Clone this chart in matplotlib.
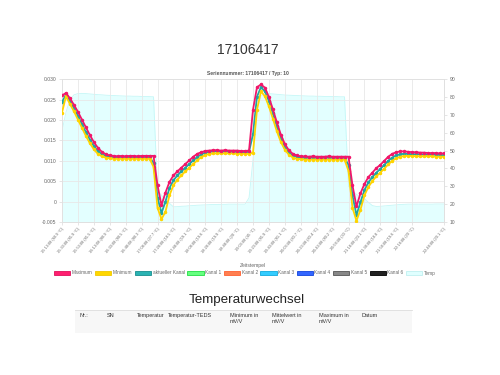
import matplotlib.pyplot as plt
from matplotlib.patches import Patch, Rectangle
import numpy as np

plt.rcParams['font.family'] = ['Liberation Sans', 'DejaVu Sans']

# Messwerte in mV/V, ein Wert pro Zeitstempel
maximum = [0.0260, 0.0266, 0.0253, 0.0237, 0.0220, 0.0201, 0.0182, 0.0163, 0.0146, 0.0132, 0.0122, 0.0116,
           0.0113, 0.0112, 0.0111, 0.0112, 0.0111, 0.0112, 0.0112, 0.0111, 0.0112, 0.0112, 0.0112, 0.0112,
           0.0040, -0.0009, 0.0022, 0.0048, 0.0064, 0.0074, 0.0083, 0.0092, 0.0101, 0.0110, 0.0117, 0.0121,
           0.0124, 0.0125, 0.0126, 0.0126, 0.0125, 0.0126, 0.0125, 0.0125, 0.0125, 0.0124, 0.0124, 0.0125,
           0.0225, 0.0280, 0.0287, 0.0279, 0.0256, 0.0226, 0.0194, 0.0164, 0.0141, 0.0126, 0.0117, 0.0113,
           0.0111, 0.0111, 0.0110, 0.0111, 0.0110, 0.0110, 0.0110, 0.0111, 0.0110, 0.0110, 0.0110, 0.0110,
           0.0110, 0.0040, -0.0012, 0.0020, 0.0043, 0.0060, 0.0071, 0.0082, 0.0090, 0.0100, 0.0110, 0.0117,
           0.0121, 0.0123, 0.0123, 0.0122, 0.0121, 0.0121, 0.0120, 0.0120, 0.0119, 0.0119, 0.0119, 0.0118,
           0.0118]
minimum = [0.0218, 0.0258, 0.0239, 0.0221, 0.0201, 0.0181, 0.0161, 0.0143, 0.0128, 0.0117, 0.0111, 0.0108,
           0.0106, 0.0105, 0.0105, 0.0105, 0.0105, 0.0105, 0.0105, 0.0105, 0.0105, 0.0105, 0.0105, 0.0085,
           -0.0015, -0.0043, -0.0025, 0.0015, 0.0040, 0.0054, 0.0064, 0.0074, 0.0083, 0.0092, 0.0101, 0.0109,
           0.0114, 0.0117, 0.0118, 0.0118, 0.0118, 0.0118, 0.0118, 0.0118, 0.0117, 0.0117, 0.0117, 0.0117,
           0.0120, 0.0225, 0.0270, 0.0258, 0.0233, 0.0203, 0.0172, 0.0146, 0.0127, 0.0115, 0.0108, 0.0105,
           0.0104, 0.0103, 0.0103, 0.0103, 0.0103, 0.0103, 0.0103, 0.0103, 0.0103, 0.0103, 0.0103, 0.0103,
           0.0075, -0.0015, -0.0047, -0.0020, 0.0015, 0.0036, 0.0050, 0.0062, 0.0071, 0.0081, 0.0091, 0.0100,
           0.0106, 0.0110, 0.0112, 0.0112, 0.0112, 0.0111, 0.0111, 0.0111, 0.0111, 0.0111, 0.0110, 0.0110,
           0.0110]
aktuell = [0.0244, 0.0262, 0.0246, 0.0229, 0.0210, 0.0190, 0.0170, 0.0152, 0.0136, 0.0124, 0.0116, 0.0112,
           0.0110, 0.0109, 0.0109, 0.0109, 0.0109, 0.0109, 0.0109, 0.0109, 0.0109, 0.0109, 0.0109, 0.0095,
           0.0010, -0.0028, 0.0000, 0.0033, 0.0052, 0.0064, 0.0074, 0.0083, 0.0092, 0.0101, 0.0109, 0.0116,
           0.0120, 0.0122, 0.0123, 0.0123, 0.0122, 0.0123, 0.0122, 0.0122, 0.0122, 0.0121, 0.0121, 0.0122,
           0.0165, 0.0257, 0.0280, 0.0270, 0.0246, 0.0216, 0.0184, 0.0156, 0.0134, 0.0120, 0.0113, 0.0110,
           0.0108, 0.0108, 0.0107, 0.0108, 0.0107, 0.0107, 0.0107, 0.0108, 0.0107, 0.0107, 0.0107, 0.0107,
           0.0090, 0.0015, -0.0033, -0.0002, 0.0028, 0.0047, 0.0060, 0.0071, 0.0080, 0.0090, 0.0100, 0.0108,
           0.0113, 0.0116, 0.0117, 0.0117, 0.0116, 0.0116, 0.0116, 0.0115, 0.0115, 0.0115, 0.0115, 0.0114,
           0.0114]
# Temperatur in °C
temp = [60.9, 71.5, 78.4, 81.2, 81.9, 82.0, 81.9, 81.7, 81.5, 81.3, 81.2, 81.0,
        80.9, 80.8, 80.7, 80.6, 80.5, 80.5, 80.4, 80.4, 80.3, 80.3, 80.2, 80.1,
        27.7, 25.0, 22.5, 20.5, 18.5, 18.6, 18.8, 18.9, 19.1, 19.2, 19.4, 19.5,
        19.6, 19.7, 19.8, 19.8, 19.9, 19.9, 20.0, 20.0, 20.0, 20.0, 20.0, 23.5,
        45.0, 72.5, 80.6, 81.8, 81.9, 81.7, 81.5, 81.3, 81.1, 81.0, 80.9, 80.8,
        80.7, 80.6, 80.5, 80.5, 80.4, 80.4, 80.3, 80.3, 80.2, 80.2, 80.1, 80.1,
        30.0, 27.5, 25.5, 24.0, 23.1, 21.0, 19.2, 18.7, 18.8, 19.0, 19.2, 19.4,
        19.6, 19.8, 19.9, 20.0, 20.0, 20.0, 20.0, 20.0, 20.0, 20.0, 20.1, 20.1,
        20.1]

tick_idx = [0, 4, 8, 12, 16, 20, 24, 28, 32, 36, 40, 44, 48, 52, 56, 60, 64, 68, 72, 76, 80, 84, 88, 96]
tick_zeit = ['15:13:08', '15:33:08', '15:53:08', '16:13:08', '16:33:08', '16:48:08', '17:08:08', '17:28:08',
             '17:48:08', '18:08:08', '18:28:08', '18:48:08', '19:03:08', '19:23:08', '19:43:08', '20:03:08',
             '20:23:08', '20:43:08', '20:58:08', '21:18:08', '21:38:08', '21:58:08', '22:18:08', '22:48:08']

legend_names = ['Maximum', 'Minimum', 'aktueller Kanal', 'Kanal 1', 'Kanal 2',
                'Kanal 3', 'Kanal 4', 'Kanal 5', 'Kanal 6', 'Temp']
legend_face = ['#ff1f70', '#ffd700', '#2bb3b3', '#66ff80', '#ff7f50',
               '#33ccff', '#3366ff', '#888888', '#222222', '#e0ffff']
legend_edge = ['#e0105c', '#f0c800', '#178f8f', '#22dd44', '#ff6030',
               '#11aadd', '#1144dd', '#555555', '#000000', '#c0f0f0']

table_cols = ['Nr.:', 'SN', 'Temperatur', 'Temperatur-TEDS', 'Minimum in\nmV/V',
              'Mittelwert in\nmV/V', 'Maximum in\nmV/V', 'Datum']
table_x = [80, 107, 137, 168, 230, 272, 319, 362]

x = np.arange(len(temp))

fig = plt.figure(figsize=(5, 3.75), dpi=100)
ax = fig.add_axes([0.124, 0.408, 0.764, 0.381])
ax2 = ax.twinx()
ax.set_zorder(ax2.get_zorder() + 1)
ax.patch.set_visible(False)

# Temperatur als Flaeche auf der rechten Achse
ax2.fill_between(x, temp, 10, color='#e0ffff', alpha=0.9, lw=0)
ax2.plot(x, temp, color='#c4f7f7', lw=0.6)
ax2.set_ylim(10, 90)
ax2.set_yticks(range(10, 91, 10))

ax.plot(x, aktuell, color='#1fa5a5', lw=1.3, marker='o', ms=1.5, zorder=3)
ax.plot(x, minimum, color='#ffd400', lw=1.3, marker='o', ms=1.5, zorder=4)
ax.plot(x, maximum, color='#f0176a', lw=1.3, marker='o', ms=1.5, zorder=5)

ax.set_xlim(0, len(temp) - 1)
ax.set_ylim(-0.005, 0.030)
ax.set_yticks(np.arange(-0.005, 0.0301, 0.005))
ax.set_yticklabels(['-0.005', '0', '0.005', '0.010', '0.015', '0.020', '0.025', '0.030'])
ax.set_xticks(tick_idx)
ax.set_xticklabels([f'{t} ({temp[i]:g} °C)' for t, i in zip(tick_zeit, tick_idx)],
                   rotation=50, ha='right', rotation_mode='anchor')
ax.grid(color='#e8e8e8', lw=0.6)

for a in (ax, ax2):
    for s in a.spines.values():
        s.set_color('#e0e0e0')
        s.set_linewidth(0.6)
    a.tick_params(length=2.5, width=0.6, color='#e0e0e0', labelcolor='#666666', labelsize=3.6, pad=1.5)
ax.tick_params(axis='x', labelsize=2.8, pad=1)

fig.text(0.495, 1 - 50 / 375, '17106417', ha='center', va='center', fontsize=10, color='#333333')
fig.text(0.495, 1 - 73 / 375, 'Seriennummer: 17106417 / Typ: 10', ha='center', va='center',
         fontsize=3.6, weight='bold', color='#555555')
fig.text(253 / 500, 1 - 265 / 375, 'Zeitstempel', ha='center', va='center', fontsize=3.6, color='#666666')

handles = [Patch(facecolor=f, edgecolor=e, lw=0.6) for f, e in zip(legend_face, legend_edge)]
fig.legend(handles, legend_names, ncol=10, loc='center', bbox_to_anchor=(0.49, 1 - 273 / 375),
           fontsize=3.4, frameon=False, handlelength=3.4, handleheight=1.0, handletextpad=0.3,
           columnspacing=0.6, borderpad=0, borderaxespad=0, labelcolor='#666666')

fig.text(0.493, 1 - 300 / 375, 'Temperaturwechsel', ha='center', va='center', fontsize=9.6, color='#222222')

fig.add_artist(Rectangle((75 / 500, 1 - 333 / 375), 337 / 500, 23 / 375, transform=fig.transFigure,
                         facecolor='#f7f7f7', edgecolor='none'))
fig.add_artist(plt.Line2D([75 / 500, 412 / 500], [1 - 310 / 375] * 2, transform=fig.transFigure,
                          color='#dddddd', lw=0.6))
for name, xp in zip(table_cols, table_x):
    fig.text(xp / 500, 1 - 313 / 375, name, ha='left', va='top', fontsize=4.0, color='#333333',
             linespacing=1.3)

fig.savefig('out.png', dpi=100)
